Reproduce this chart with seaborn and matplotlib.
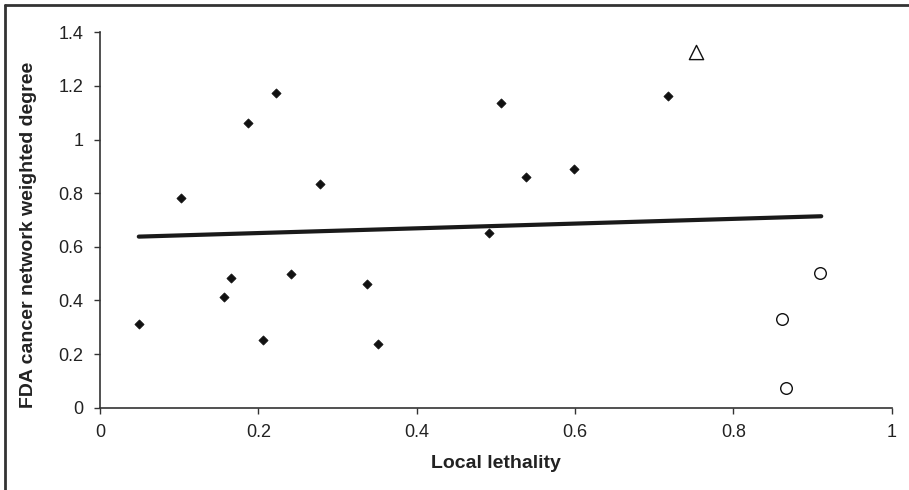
import seaborn as sns
import pandas as pd
import numpy as np
from matplotlib import pyplot as plt
from matplotlib.lines import Line2D

# data
diamond_x = [0.049, 0.102, 0.156, 0.166, 0.187, 0.206, 0.222, 0.241, 0.278,
             0.337, 0.351, 0.491, 0.506, 0.538, 0.599, 0.718]
diamond_y = [0.311, 0.781, 0.412, 0.483, 1.063, 0.251, 1.173, 0.500, 0.833,
             0.463, 0.239, 0.650, 1.135, 0.862, 0.890, 1.164]
triangle_x = [0.753]
triangle_y = [1.326]
circle_x = [0.909, 0.861, 0.866]
circle_y = [0.501, 0.332, 0.073]
trend_x = [0.049, 0.911]
trend_y = [0.638, 0.714]

x_ticks = [0, 0.2, 0.4, 0.6, 0.8, 1]
x_labels = ['0', '0.2', '0.4', '0.6', '0.8', '1']
y_ticks = [0, 0.2, 0.4, 0.6, 0.8, 1, 1.2, 1.4]
y_labels = ['0', '0.2', '0.4', '0.6', '0.8', '1', '1.2', '1.4']

sns.set_style('ticks')
plt.rcParams['font.family'] = ['Liberation Sans', 'DejaVu Sans']

fig = plt.figure(figsize=(9.09, 4.9), dpi=100)
ax = fig.add_axes([100 / 909, 1 - 407.7 / 490, 791.7 / 909, 375.4 / 490])

sns.lineplot(x=trend_x, y=trend_y, ax=ax, color='#1a1a1a', linewidth=3.0,
             solid_capstyle='round', zorder=2)
sns.scatterplot(x=diamond_x, y=diamond_y, ax=ax, marker='D', s=22,
                color='#111111', edgecolor='#111111', linewidth=0.5, zorder=3)
sns.scatterplot(x=triangle_x, y=triangle_y, ax=ax, marker='^', s=105,
                facecolor='white', edgecolor='#111111', linewidth=1.0, zorder=3)
sns.scatterplot(x=circle_x, y=circle_y, ax=ax, marker='o', s=70,
                facecolor='white', edgecolor='#111111', linewidth=1.0, zorder=3)

ax.set_xlim(0, 1)
ax.set_ylim(0, 1.4)
ax.set_xticks(x_ticks)
ax.set_xticklabels(x_labels)
ax.set_yticks(y_ticks)
ax.set_yticklabels(y_labels)
ax.tick_params(axis='both', labelsize=13, colors='#333333', labelcolor='#222222',
               length=4, width=1)
ax.tick_params(axis='x', pad=8)
ax.tick_params(axis='y', pad=8)
for s in ['top', 'right']:
    ax.spines[s].set_visible(False)
for s in ['left', 'bottom']:
    ax.spines[s].set_color('#333333')
    ax.spines[s].set_linewidth(1.2)

ax.set_xlabel('Local lethality', fontsize=14, fontweight='bold', color='#222222')
ax.set_ylabel('FDA cancer network weighted degree', fontsize=14, fontweight='bold',
              color='#222222')
ax.xaxis.set_label_coords(0.5, -0.125)
ax.yaxis.set_label_coords(-0.08, 0.46)

# outer frame (top and left edges visible in the reference)
fig.add_artist(Line2D([5 / 909, 1], [1 - 5 / 490, 1 - 5 / 490], color='#333333', linewidth=2))
fig.add_artist(Line2D([5 / 909, 5 / 909], [0, 1 - 5 / 490], color='#333333', linewidth=2))

fig.savefig('out.png', dpi=100, facecolor='white')
